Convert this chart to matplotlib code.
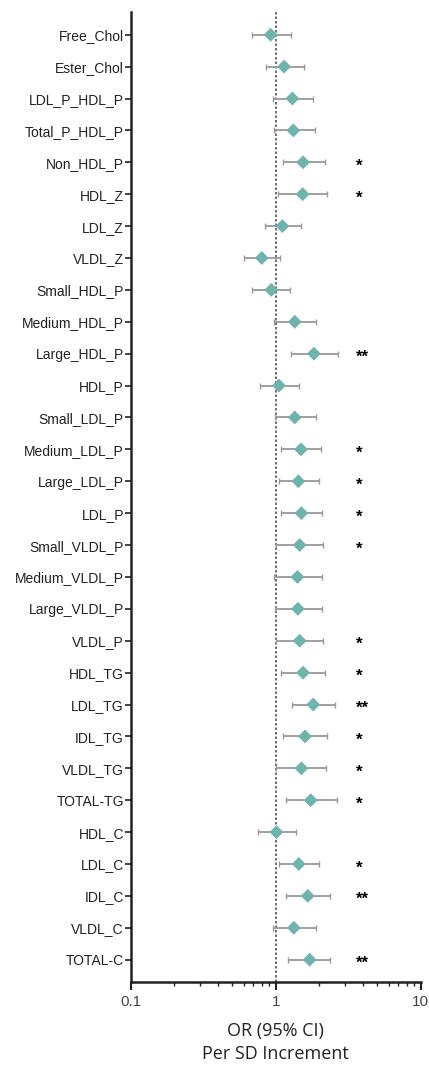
import matplotlib.pyplot as plt
import numpy as np

# Lipoprotein measures, top to bottom as they appear
labels = ["Free_Chol", "Ester_Chol", "LDL_P_HDL_P", "Total_P_HDL_P", "Non_HDL_P",
          "HDL_Z", "LDL_Z", "VLDL_Z", "Small_HDL_P", "Medium_HDL_P",
          "Large_HDL_P", "HDL_P", "Small_LDL_P", "Medium_LDL_P", "Large_LDL_P",
          "LDL_P", "Small_VLDL_P", "Medium_VLDL_P", "Large_VLDL_P", "VLDL_P",
          "HDL_TG", "LDL_TG", "IDL_TG", "VLDL_TG", "TOTAL-TG",
          "HDL_C", "LDL_C", "IDL_C", "VLDL_C", "TOTAL-C"]

odds = [0.92, 1.14, 1.30, 1.32, 1.54, 1.53, 1.11, 0.80, 0.93, 1.35,
        1.83, 1.05, 1.35, 1.49, 1.43, 1.50, 1.46, 1.41, 1.42, 1.46,
        1.54, 1.81, 1.59, 1.50, 1.74, 1.01, 1.44, 1.66, 1.33, 1.71]
ci_low = [0.68, 0.85, 0.96, 0.97, 1.12, 1.04, 0.84, 0.60, 0.69, 0.97,
          1.27, 0.78, 0.99, 1.09, 1.05, 1.09, 1.01, 0.97, 0.98, 1.01,
          1.09, 1.29, 1.12, 1.01, 1.17, 0.75, 1.05, 1.17, 0.96, 1.22]
ci_high = [1.27, 1.57, 1.79, 1.85, 2.18, 2.26, 1.50, 1.07, 1.25, 1.89,
           2.68, 1.44, 1.88, 2.04, 1.97, 2.09, 2.12, 2.08, 2.08, 2.12,
           2.20, 2.55, 2.26, 2.21, 2.65, 1.37, 1.98, 2.36, 1.88, 2.38]
stars = ["", "", "", "", "*", "*", "", "", "", "",
         "**", "", "", "*", "*", "*", "*", "", "", "*",
         "*", "**", "*", "*", "*", "", "*", "**", "", "**"]

label_font = ["Liberation Sans", "DejaVu Sans"]

fig = plt.figure(figsize=(4.29, 10.68), dpi=100)
ax = fig.add_axes([0.305, 0.0805, 0.676, 0.9085])

y = np.arange(len(labels))
odds = np.array(odds)
err = np.array([odds - np.array(ci_low), np.array(ci_high) - odds])

ax.axvline(1, color="#555555", linestyle=(0, (1.5, 1.2)), linewidth=1.2, zorder=1)
ax.errorbar(odds, y, xerr=err, fmt="none", ecolor="#999999", elinewidth=1.3,
            capsize=2.5, capthick=1.0, zorder=2)
ax.scatter(odds, y, marker="D", s=50, color="#6fb3ae", edgecolors="none", zorder=3)

# significance markers (asterisk glyph sits high, so nudge down a touch)
for yi, s in zip(y, stars):
    if s:
        ax.text(3.55, yi + 0.12, s, ha="left", va="center", fontsize=12,
                fontweight="bold", family=label_font, color="black")

ax.set_xscale("log")
ax.set_xlim(0.1, 10)
ax.set_ylim(len(labels) - 0.3, -0.72)
ax.set_yticks(y)
ax.set_yticklabels(labels, family=label_font, fontsize=10, color="#222222")
ax.set_xticks([0.1, 1, 10])
ax.set_xticklabels(["0.1", "1", "10"], family=label_font, fontsize=11, color="#444444")

for side in ["top", "right"]:
    ax.spines[side].set_visible(False)
for side in ["left", "bottom"]:
    ax.spines[side].set_linewidth(1.8)
    ax.spines[side].set_color("#222222")
ax.tick_params(axis="y", length=4, width=1.2, pad=1, colors="#222222", labelcolor="#222222")
ax.tick_params(axis="x", which="major", length=6, width=1.5, pad=3, colors="#222222",
               labelcolor="#444444")
ax.tick_params(axis="x", which="minor", length=3, width=1.0, colors="#222222")

ax.set_xlabel("OR (95% CI)\nPer SD Increment", family=["Open Sans", "DejaVu Sans"],
              fontsize=13, color="#222222", labelpad=10, linespacing=1.3)

fig.savefig("out.png", dpi=100)
